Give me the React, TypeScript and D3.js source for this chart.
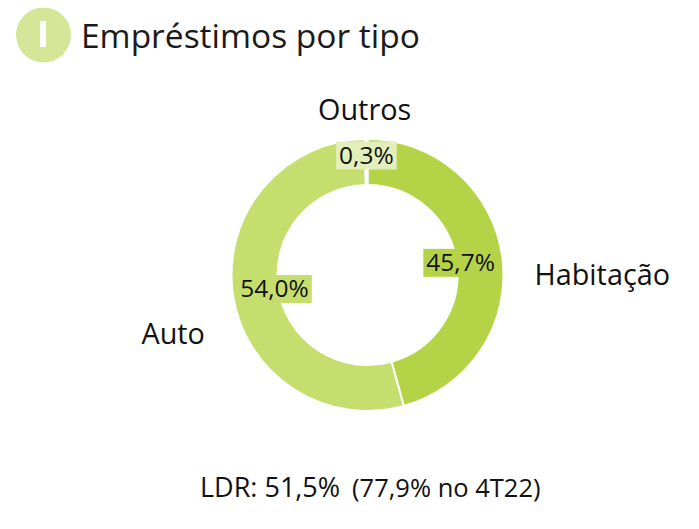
import { useEffect, useRef } from "react";
import * as d3 from "d3";

// chart data
const categories = ["Habitação", "Auto", "Outros"];
const shares = [45.7, 54.0, 0.3];
const shareLabels = ["45,7%", "54,0%", "0,3%"];
const sliceColors = ["#b5d347", "#c6de6e", "#e3efbb"];

const title = "Empréstimos por tipo";
const footMain = "LDR: 51,5%";
const footNote = "(77,9% no 4T22)";

const FONT = "'Open Sans', 'Noto Sans', sans-serif";

export default function App() {
  const svgRef = useRef<SVGSVGElement>(null);

  useEffect(() => {
    if (!svgRef.current) return;
    const width = 699;
    const height = 529;

    const svg = d3.select(svgRef.current);
    svg.selectAll("*").remove();
    svg.attr("width", width).attr("height", height);

    svg.append("rect").attr("width", width).attr("height", height).attr("fill", "#fff");

    // left accent bar
    svg.append("rect").attr("x", 0).attr("y", 0).attr("width", 6).attr("height", height).attr("fill", "#e6f0c2");

    // badge + title
    svg.append("circle").attr("cx", 43.5).attr("cy", 35).attr("r", 27.5).attr("fill", "#d6e699");
    svg.append("rect").attr("x", 40).attr("y", 21).attr("width", 6).attr("height", 26).attr("fill", "#fff");
    svg
      .append("text")
      .attr("x", 81)
      .attr("y", 48)
      .attr("font-family", FONT)
      .attr("font-size", 33.5)
      .attr("fill", "#1a1a1a")
      .text(title);

    const cx = 367.5;
    const cy = 275;
    const outer = 136;
    const inner = 90;

    const data = categories.map((c, i) => ({ cat: c, value: shares[i], label: shareLabels[i], color: sliceColors[i] }));
    type D = (typeof data)[number];

    const pie = d3.pie<D>().value((d) => d.value).sort(null);
    const arcs = pie(data);
    const arc = d3.arc<d3.PieArcDatum<D>>().innerRadius(inner).outerRadius(outer);

    const g = svg.append("g").attr("transform", `translate(${cx},${cy})`);

    g.selectAll("path.slice")
      .data(arcs)
      .enter()
      .append("path")
      .attr("class", "slice")
      .attr("d", arc)
      .attr("fill", (d) => d.data.color)
      .attr("stroke", "#fff")
      .attr("stroke-width", 2);

    // value labels on boxes
    arcs.forEach((a) => {
      const small = a.endAngle - a.startAngle < 0.2;
      const r = small ? 120 : 94;
      const mid = (a.startAngle + a.endAngle) / 2;
      const x = Math.sin(mid) * r;
      const y = -Math.cos(mid) * r;
      const lg = g.append("g").attr("transform", `translate(${x},${y})`);
      const t = lg
        .append("text")
        .attr("text-anchor", "middle")
        .attr("dy", "0.36em")
        .attr("font-family", FONT)
        .attr("font-size", 24.5)
        .attr("fill", "#111")
        .text(a.data.label);
      const bb = (t.node() as SVGTextElement).getBBox();
      lg.insert("rect", "text")
        .attr("x", bb.x - 3)
        .attr("y", -13.5)
        .attr("width", bb.width + 6)
        .attr("height", 28)
        .attr("fill", small ? "#e3efbb" : a.data.color);
    });

    // category labels
    const placement: Record<string, { angle: number; r: number; anchor: string }> = {
      "Habitação": { angle: 90, r: 167, anchor: "start" },
      Auto: { angle: 250, r: 173, anchor: "end" },
      Outros: { angle: -1, r: 165, anchor: "middle" },
    };
    categories.forEach((c) => {
      const p = placement[c];
      const rad = (p.angle * Math.PI) / 180;
      g.append("text")
        .attr("x", Math.sin(rad) * p.r)
        .attr("y", -Math.cos(rad) * p.r)
        .attr("dy", "0.35em")
        .attr("text-anchor", p.anchor)
        .attr("font-family", FONT)
        .attr("font-size", 28.8)
        .attr("fill", "#111")
        .text(c);
    });

    // footer
    const foot = svg
      .append("text")
      .attr("x", 200)
      .attr("y", 497)
      .attr("font-family", FONT)
      .attr("font-size", 27)
      .attr("fill", "#111");
    foot.append("tspan").text(footMain);
    foot.append("tspan").attr("dx", 12).attr("font-size", 25.5).text(footNote);
  }, []);

  return (
    <div style={{ margin: -8 }}>
      <svg ref={svgRef} style={{ display: "block" }} />
    </div>
  );
}
